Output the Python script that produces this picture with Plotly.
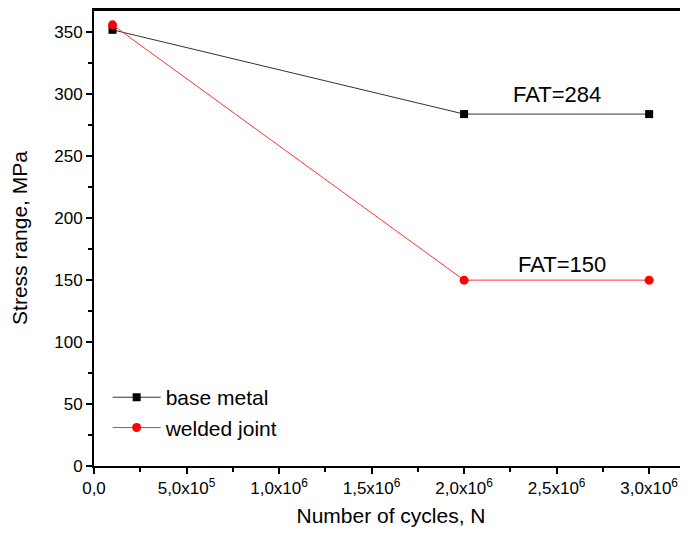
import plotly.graph_objects as go

cycles = [1e5, 2e6, 3e6]
base_metal = [352, 284, 284]
welded_joint = [356, 150, 150]
x_tickvals = [0, 5e5, 1e6, 1.5e6, 2e6, 2.5e6, 3e6]
x_ticktext = ["0,0", "5,0x10<sup>5</sup>", "1,0x10<sup>6</sup>", "1,5x10<sup>6</sup>",
              "2,0x10<sup>6</sup>", "2,5x10<sup>6</sup>", "3,0x10<sup>6</sup>"]
y_tickvals = [0, 50, 100, 150, 200, 250, 300, 350]
annotations_text = ["FAT=284", "FAT=150"]
annotations_x = [2.5e6, 2.53e6]
annotations_y = [300, 163]

FONT = "Liberation Sans, Arial"

fig = go.Figure()
fig.add_trace(go.Scatter(x=cycles, y=base_metal, mode="lines+markers", name="base metal",
                         line=dict(color="#333333", width=1),
                         marker=dict(symbol="square", size=8, color="black")))
fig.add_trace(go.Scatter(x=cycles, y=welded_joint, mode="lines+markers", name="welded joint",
                         line=dict(color="#ff3333", width=1),
                         marker=dict(symbol="circle", size=9, color="red")))

for t, x, y in zip(annotations_text, annotations_x, annotations_y):
    fig.add_annotation(x=x, y=y, text=t, showarrow=False,
                       font=dict(size=22, color="black", family=FONT))

fig.add_shape(type="line", xref="paper", yref="paper", x0=0, x1=1, y0=1, y1=1,
              line=dict(color="black", width=2))

fig.update_layout(
    width=680, height=526,
    margin=dict(l=86, r=0, t=2, b=68),
    paper_bgcolor="white", plot_bgcolor="white",
    font=dict(family=FONT, size=16, color="black"),
    showlegend=True,
    legend=dict(x=0.023, y=0.195, xanchor="left", yanchor="top",
                bgcolor="rgba(0,0,0,0)", font=dict(size=21), tracegroupgap=0,
                itemwidth=48),
    xaxis=dict(range=[0, 3.21e6], tickvals=x_tickvals, ticktext=x_ticktext,
               automargin=False,
               showgrid=False, zeroline=False, showline=True, linecolor="black",
               linewidth=2, mirror=True, ticks="outside", ticklen=6, tickwidth=2,
               tickcolor="black",
               minor=dict(dtick=2.5e5, tick0=0, ticks="outside", ticklen=4, tickwidth=2,
                          tickcolor="black", showgrid=False),
               title=dict(text="Number of cycles, N", font=dict(size=21), standoff=11),
               tickfont=dict(size=17)),
    yaxis=dict(range=[0, 368], tickvals=y_tickvals,
               automargin=False,
               showgrid=False, zeroline=False, showline=True, linecolor="black",
               linewidth=2, ticks="outside", ticklen=6, tickwidth=2, tickcolor="black",
               minor=dict(dtick=25, tick0=0, ticks="outside", ticklen=4, tickwidth=2,
                          tickcolor="black", showgrid=False),
               title=dict(text="Stress range, MPa", font=dict(size=21), standoff=26),
               tickfont=dict(size=17)),
)

fig.write_html("out.html")
